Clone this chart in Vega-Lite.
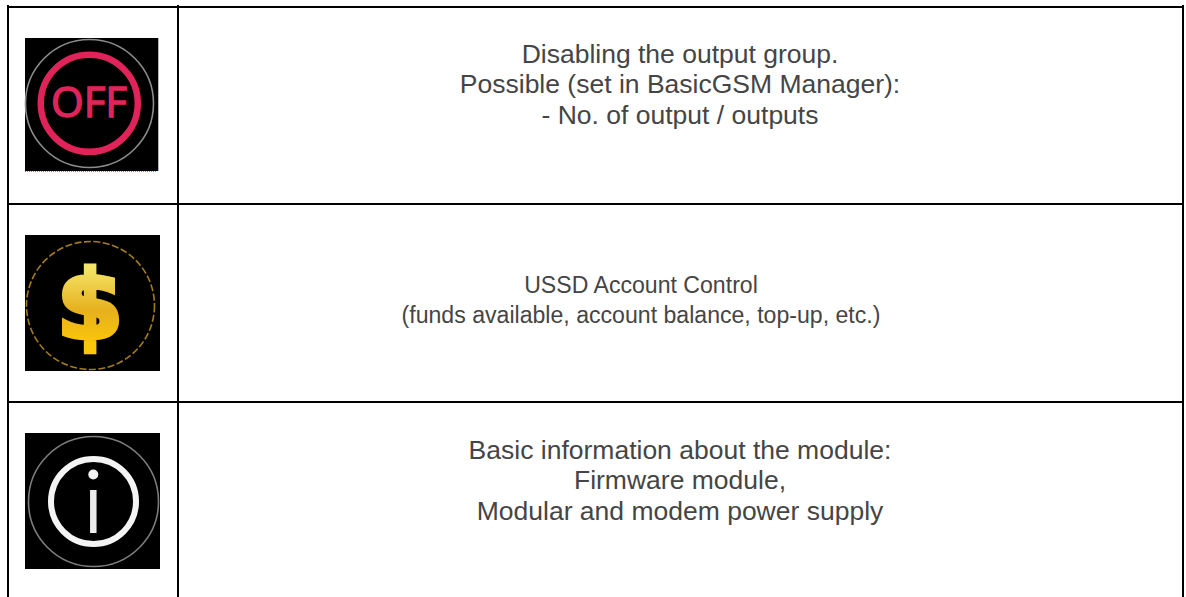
{
  "$schema": "https://vega.github.io/schema/vega-lite/v6.json",
  "width": 1186,
  "height": 597,
  "autosize": "none",
  "padding": 0,
  "background": "white",
  "config": {"view": {"stroke": null}},
  "datasets": {
    "grid": [
      {"x": 8, "x2": 1183, "y": 7, "y2": 7},
      {"x": 8, "x2": 1183, "y": 204, "y2": 204},
      {"x": 8, "x2": 1183, "y": 402, "y2": 402},
      {"x": 8, "x2": 8, "y": 6, "y2": 597},
      {"x": 178, "x2": 178, "y": 6, "y2": 597},
      {"x": 1183, "x2": 1183, "y": 6, "y2": 597}
    ],
    "tiles": [
      {"icon": "off", "x": 25, "x2": 158, "y": 38, "y2": 171},
      {"icon": "usd", "x": 25, "x2": 160, "y": 235, "y2": 371},
      {"icon": "info", "x": 25, "x2": 160, "y": 433, "y2": 569}
    ],
    "rings": [
      {"ring": "offOuter", "x": 89.5, "y": 103.5, "d": 128},
      {"ring": "offInner", "x": 89.3, "y": 103.3, "d": 97},
      {"ring": "usdOuter", "x": 90.5, "y": 305.5, "d": 128},
      {"ring": "infoOuter", "x": 93.5, "y": 501.5, "d": 130},
      {"ring": "infoInner", "x": 93.5, "y": 501.5, "d": 85}
    ],
    "labels": [
      {"t": "Disabling the output group.", "x": 680, "y": 63, "group": "wide"},
      {"t": "Possible (set in BasicGSM Manager):", "x": 680, "y": 93, "group": "wide"},
      {"t": "- No. of output / outputs", "x": 680, "y": 124, "group": "wide"},
      {"t": "USSD Account Control", "x": 641, "y": 293, "group": "narrow"},
      {"t": "(funds available, account balance, top-up, etc.)", "x": 641, "y": 323, "group": "narrow"},
      {"t": "Basic information about the module:", "x": 680, "y": 459, "group": "wide"},
      {"t": "Firmware module,", "x": 680, "y": 489, "group": "wide"},
      {"t": "Modular and modem power supply", "x": 680, "y": 520, "group": "wide"}
    ]
  },
  "encoding": {
    "x": {"field": "x", "type": "quantitative", "axis": null, "scale": {"domain": [0, 1186], "nice": false, "zero": false}},
    "y": {"field": "y", "type": "quantitative", "axis": null, "scale": {"domain": [597, 0], "nice": false, "zero": false}}
  },
  "layer": [
    {
      "data": {"name": "tiles"},
      "mark": {"type": "rect", "color": "#000000"},
      "encoding": {"x2": {"field": "x2"}, "y2": {"field": "y2"}}
    },
    {
      "data": {"values": [{"x": 158.5, "x2": 158.5, "y": 38, "y2": 171}]},
      "mark": {"type": "rule", "color": "#b4b4b4", "strokeWidth": 1},
      "encoding": {"x2": {"field": "x2"}, "y2": {"field": "y2"}}
    },
    {
      "data": {"values": [{"x": 25, "x2": 157, "y": 171.5, "y2": 171.5}]},
      "mark": {"type": "rule", "color": "#3f9cf2", "strokeWidth": 1, "strokeDash": [1, 1]},
      "encoding": {"x2": {"field": "x2"}, "y2": {"field": "y2"}}
    },
    {
      "data": {"name": "grid"},
      "mark": {"type": "rule", "color": "#000000", "strokeWidth": 2, "strokeCap": "square"},
      "encoding": {"x2": {"field": "x2"}, "y2": {"field": "y2"}}
    },
    {
      "data": {"name": "rings"},
      "transform": [{"filter": "datum.ring === 'offOuter'"}],
      "mark": {"type": "point", "shape": "circle", "filled": false, "stroke": "#8c8c8c", "strokeWidth": 1.6, "opacity": 1},
      "encoding": {"size": {"field": "d", "type": "quantitative", "legend": null, "scale": {"type": "pow", "exponent": 2, "domain": [0, 200], "range": [0, 40000]}}}
    },
    {
      "data": {"name": "rings"},
      "transform": [{"filter": "datum.ring === 'offInner'"}],
      "mark": {"type": "point", "shape": "circle", "filled": false, "stroke": "#e0245a", "strokeWidth": 6.5, "opacity": 1},
      "encoding": {"size": {"field": "d", "type": "quantitative", "legend": null, "scale": {"type": "pow", "exponent": 2, "domain": [0, 200], "range": [0, 40000]}}}
    },
    {
      "data": {"name": "rings"},
      "transform": [{"filter": "datum.ring === 'usdOuter'"}],
      "mark": {"type": "point", "shape": "circle", "filled": false, "stroke": "#a57c1b", "strokeWidth": 1.6, "strokeDash": [7, 2.5], "opacity": 1},
      "encoding": {"size": {"field": "d", "type": "quantitative", "legend": null, "scale": {"type": "pow", "exponent": 2, "domain": [0, 200], "range": [0, 40000]}}}
    },
    {
      "data": {"name": "rings"},
      "transform": [{"filter": "datum.ring === 'infoOuter'"}],
      "mark": {"type": "point", "shape": "circle", "filled": false, "stroke": "#7d7d7d", "strokeWidth": 1.6, "opacity": 1},
      "encoding": {"size": {"field": "d", "type": "quantitative", "legend": null, "scale": {"type": "pow", "exponent": 2, "domain": [0, 200], "range": [0, 40000]}}}
    },
    {
      "data": {"name": "rings"},
      "transform": [{"filter": "datum.ring === 'infoInner'"}],
      "mark": {"type": "point", "shape": "circle", "filled": false, "stroke": "#f4f4f4", "strokeWidth": 6, "opacity": 1},
      "encoding": {"size": {"field": "d", "type": "quantitative", "legend": null, "scale": {"type": "pow", "exponent": 2, "domain": [0, 200], "range": [0, 40000]}}}
    },
    {
      "data": {"values": [{"x": 93.3, "y": 474.5, "d": 10}]},
      "mark": {"type": "point", "shape": "circle", "filled": true, "fill": "#f4f4f4", "opacity": 1, "strokeWidth": 0},
      "encoding": {"size": {"field": "d", "type": "quantitative", "legend": null, "scale": {"type": "pow", "exponent": 2, "domain": [0, 200], "range": [0, 40000]}}}
    },
    {
      "data": {"values": [{"x": 93.3, "x2": 93.3, "y": 490, "y2": 533}]},
      "mark": {"type": "rule", "color": "#ececec", "strokeWidth": 6.5},
      "encoding": {"x2": {"field": "x2"}, "y2": {"field": "y2"}}
    },
    {
      "data": {"values": [{"t": "OFF", "x": 89, "y": 104}]},
      "mark": {"type": "text", "font": "Open Sans", "fontSize": 42, "color": "#e0245a", "stroke": "#e0245a", "strokeWidth": 1.4, "align": "center", "baseline": "middle"},
      "encoding": {"text": {"field": "t"}}
    },
    {
      "data": {"values": [{"t": "$", "x": 90, "y": 309}]},
      "mark": {
        "type": "text", "font": "DejaVu Sans", "fontWeight": "bold", "fontSize": 95, "align": "center", "baseline": "middle",
        "stroke": {"gradient": "linear", "x1": 0, "y1": 0, "x2": 0, "y2": 1, "stops": [{"offset": 0.15, "color": "#f5e66a"}, {"offset": 0.55, "color": "#e6b01e"}, {"offset": 0.85, "color": "#fcc60a"}]},
        "strokeWidth": 5,
        "fill": {"gradient": "linear", "x1": 0, "y1": 0, "x2": 0, "y2": 1, "stops": [{"offset": 0.15, "color": "#f5e66a"}, {"offset": 0.55, "color": "#e6b01e"}, {"offset": 0.85, "color": "#fcc60a"}]}
      },
      "encoding": {"text": {"field": "t"}}
    },
    {
      "data": {"name": "labels"},
      "transform": [{"filter": "datum.group === 'wide'"}],
      "mark": {"type": "text", "font": "Liberation Sans", "fontSize": 26.5, "color": "#454545", "align": "center", "baseline": "alphabetic"},
      "encoding": {"text": {"field": "t"}}
    },
    {
      "data": {"name": "labels"},
      "transform": [{"filter": "datum.group === 'narrow'"}],
      "mark": {"type": "text", "font": "Liberation Sans", "fontSize": 23.1, "color": "#454545", "align": "center", "baseline": "alphabetic"},
      "encoding": {"text": {"field": "t"}}
    }
  ]
}
